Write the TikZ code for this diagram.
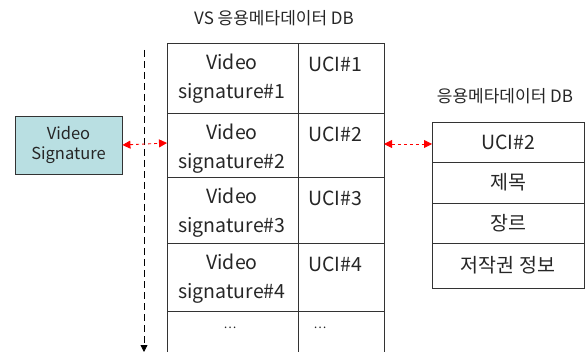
\documentclass[tikz,border=0pt]{standalone}
\usepackage{fontspec}
\setmainfont{Noto Sans CJK KR}
\usetikzlibrary{arrows.meta}
\begin{document}
\begin{tikzpicture}[x=1pt,y=-1pt,
  cell/.style={draw=black!80,line width=0.8pt},
  txt/.style={font=\fontsize{19.5}{29}\selectfont,text=black!85,inner sep=0pt},
  ttl/.style={font=\fontsize{17}{20}\selectfont,text=black!85,inner sep=0pt},
  link/.style={red,dashed,line width=0.9pt,{Triangle[length=8pt,width=8pt]}-{Triangle[length=8pt,width=8pt]}}]
\useasboundingbox (0,0) rectangle (588,352);
\begin{scope}
\clip (0,0) rectangle (588,352);
% titles
\node[ttl] (t1) at (274,18) {VS 응용메타데이터 DB};
\node[ttl] (t2) at (505,96) {응용메타데이터 DB};
% dashed timeline
\coordinate (d1) at (144,50);
\coordinate (d2) at (144,352);
\draw[dash pattern=on 7pt off 4pt,line width=0.8pt,-{Triangle[length=7pt,width=7pt]}] (d1) -- (d2);
% input box
\node[draw=black!80,line width=0.8pt,fill={rgb,255:red,185;green,223;blue,226},minimum width=107pt,minimum height=58pt,inner sep=0pt,align=center,font=\fontsize{16.5}{20}\selectfont,text=black!85] (vs) at (68.5,145) {Video\\Signature};
% main table
\foreach \a/\b in {43/113,113/177,177/243,243/311,311/360}{
  \draw[cell] (167,\a) rectangle (298,\b);
  \draw[cell] (298,\a) rectangle (384,\b);
}
\foreach \y/\n in {43/1,113/2,177/3,243/4}{
  \node[txt,align=center] (v\n) at (232,\y+36) {Video\\signature\#\n};
  \node[txt,anchor=west] (u\n) at (308,\y+21) {UCI\#\n};
}
\node[txt] (dd1) at (230,328) {\fontsize{12}{14}\selectfont …};
\node[txt] (dd2) at (320,328) {\fontsize{12}{14}\selectfont …};
\coordinate (uci2) at (384,144);
\coordinate (vsl) at (167,143);
% right table
\foreach \a/\b/\t in {122/162/UCI\#2,162/203/제목,203/243/장르,243/288/저작권 정보}{
  \draw[cell] (432,\a) rectangle (584,\b);
  \node[txt] at (508,{(\a+\b)/2}) {\t};
}
\coordinate (m1) at (432,144);
\draw[link] (vs.east) -- (vsl);
\draw[link] (uci2) -- (m1);
\end{scope}
\end{tikzpicture}
\end{document}
